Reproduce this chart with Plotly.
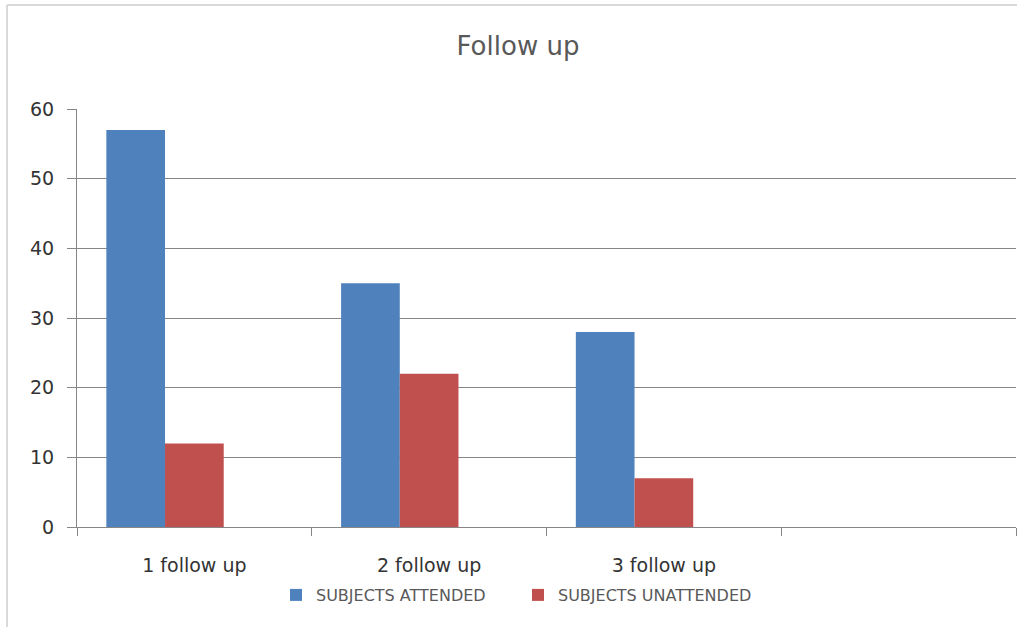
import plotly.graph_objects as go

# Follow-up attendance counts
categories = ["1 follow up", "2 follow up", "3 follow up", " "]
attended = [57, 35, 28, None]
unattended = [12, 22, 7, None]
series_names = ["SUBJECTS ATTENDED", "SUBJECTS UNATTENDED"]
y_ticks = [0, 10, 20, 30, 40, 50, 60]

BLUE = "#4F81BD"
RED = "#C0504D"
TITLE_C = "#595959"
LABEL_C = "#333333"
GRID = "#868686"
FONT = "'DejaVu Sans', sans-serif"

# Each category holds three bar slots (the third is left empty), so the two
# drawn bars sit in the left part of the group.
SLOT = 0.25
fig = go.Figure()
fig.add_trace(go.Bar(x=categories, y=attended, name=series_names[0],
                     width=SLOT, offset=-1.5 * SLOT,
                     marker=dict(color=BLUE, line=dict(width=0))))
fig.add_trace(go.Bar(x=categories, y=unattended, name=series_names[1],
                     width=SLOT, offset=-0.5 * SLOT,
                     marker=dict(color=RED, line=dict(width=0))))

W, H = 1017, 627
L, R, T, B = 77, 1, 109, 100
pw, ph = W - L - R, H - T - B


def px_x(p):
    return (p - L) / pw


def px_y(p):
    return (H - B - p) / ph


fig.update_layout(
    width=W, height=H,
    margin=dict(l=L, r=R, t=T, b=B, pad=0),
    paper_bgcolor="white", plot_bgcolor="white",
    barmode="overlay",
    font=dict(family=FONT, color=LABEL_C),
    title=dict(text="Follow up", xref="container", x=518 / W, xanchor="center",
               yref="container", y=1 - 46 / H, yanchor="middle",
               font=dict(size=26, color=TITLE_C, family=FONT)),
    xaxis=dict(
        type="category", categoryorder="array", categoryarray=categories,
        range=[-0.5, 3.5], tickson="boundaries",
        ticks="outside", ticklen=8, tickcolor=GRID, tickwidth=1,
        showline=True, linecolor=GRID, linewidth=1,
        showgrid=False, zeroline=False,
        tickfont=dict(size=19, color=LABEL_C, family=FONT),
        ticklabelstandoff=21,
    ),
    yaxis=dict(
        range=[0, 60], tickvals=y_ticks,
        ticks="outside", ticklen=9, tickcolor=GRID,
        showline=True, linecolor=GRID, linewidth=1,
        showgrid=True, gridcolor=GRID, gridwidth=1,
        zeroline=False,
        tickfont=dict(size=19, color=LABEL_C, family=FONT),
        ticklabelstandoff=9,
    ),
    legend=dict(
        orientation="h", x=px_x(276), xanchor="left",
        y=px_y(595), yanchor="middle",
        font=dict(size=16, color=TITLE_C, family=FONT),
        entrywidth=197, entrywidthmode="pixels",
        traceorder="normal", bgcolor="rgba(0,0,0,0)",
    ),
    shapes=[
        # chart-area frame along the top and left
        dict(type="line", xref="paper", yref="paper",
             x0=px_x(7), x1=px_x(W), y0=px_y(5), y1=px_y(5),
             line=dict(color="#D9D9D9", width=2)),
        dict(type="line", xref="paper", yref="paper",
             x0=px_x(7), x1=px_x(7), y0=px_y(5), y1=px_y(H),
             line=dict(color="#D9D9D9", width=2)),
    ],
)

fig.write_html("out.html")
